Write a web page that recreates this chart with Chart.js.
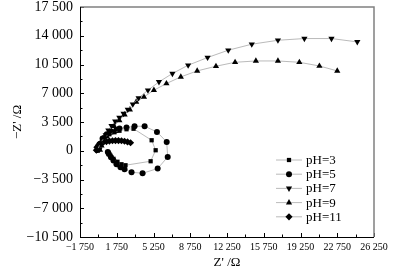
<!DOCTYPE html>
<html>
<head>
<meta charset="utf-8">
<script src="https://cdn.jsdelivr.net/npm/chart.js@4"></script>
<style>
  html, body { margin: 0; padding: 0; background: #fff; }
</style>
</head>
<body>
<canvas id="nyquist" width="405" height="272"></canvas>
<script>
// Nyquist data, [Z', -Z''] in ohm
const seriesLabels = ['pH=3', 'pH=5', 'pH=7', 'pH=9', 'pH=11'];

const ph3 = [[-94, 61], [193, 913], [575, 1644], [1054, 2009], [1532, 2252], [2011, 2435],
  [2681, 2617], [3350, 2678], [5073, 1278], [5455, 61], [4977, -1278], [2585, -1765],
  [2202, -1644], [1820, -1340], [1440, -980], [1150, -600], [960, -250]];

const ph5 = [[-94, 100], [100, 800], [400, 1500], [800, 2000], [1250, 2300], [1700, 2500],
  [2011, 2700], [2681, 2820], [3446, 2983], [4403, 2983], [5580, 2289], [6507, 1071],
  [6603, -755], [5646, -2167], [4211, -2739], [3159, -2617], [2489, -2252], [2106, -2009],
  [1724, -1644], [1437, -1200], [1200, -800], [1000, -400], [900, -150]];

const ph7 = [[100, 150], [250, 700], [450, 1300], [700, 1900], [950, 2500], [1250, 3050],
  [1600, 3600], [2000, 4050], [2400, 4530], [2800, 5020], [3280, 5660], [3830, 6430],
  [4720, 7370], [5770, 8380], [7050, 9400], [8550, 10410], [10400, 11350], [12370, 12240],
  [14610, 12970], [17100, 13450], [19620, 13660], [22200, 13660], [24660, 13250]];

const ph9 = [[150, 100], [300, 600], [550, 1150], [800, 1700], [1050, 2300], [1500, 3000],
  [2000, 3700], [2500, 4400], [3000, 5000], [3600, 5940], [4340, 6550], [5290, 7370],
  [6480, 8180], [7850, 8990], [9410, 9720], [11200, 10290], [13020, 10770], [15000, 10930],
  [17100, 10930], [19140, 10770], [21050, 10320], [22750, 9720]];

const ph11 = [[-190, 61], [-140, 426], [1, 670], [193, 913], [480, 1035], [767, 1120],
  [1054, 1181], [1341, 1217], [1628, 1242], [1915, 1242], [2202, 1217], [2489, 1157],
  [2776, 1071], [3063, 974]];

const xMin = -1750, xMax = 26250, yMin = -10500, yMax = 17500, step = 1750;

function fmt(v) {
  const s = Math.abs(v).toString().replace(/\B(?=(\d{3})+(?!\d))/g, ' ');
  return (v < 0 ? '\u2212' : '') + s;
}

function toPoints(arr) {
  return arr.map(p => ({ x: p[0], y: p[1] }));
}

const serif = 'Liberation Serif';

const markers = [
  { style: 'rect', radius: 3, rotation: 0 },
  { style: 'circle', radius: 3, rotation: 0 },
  { style: 'triangle', radius: 3.6, rotation: 180 },
  { style: 'triangle', radius: 3.6, rotation: 0 },
  { style: 'rectRot', radius: 3.6, rotation: 0 }
];

const allSeries = [ph3, ph5, ph7, ph9, ph11];

const datasets = allSeries.map((s, i) => ({
  label: seriesLabels[i],
  data: toPoints(s),
  showLine: true,
  borderColor: '#a8a8a8',
  borderWidth: 0.8,
  backgroundColor: '#000',
  pointBackgroundColor: '#000',
  pointBorderColor: '#000',
  pointBorderWidth: 0,
  pointStyle: markers[i].style,
  pointRadius: markers[i].radius,
  rotation: markers[i].rotation,
  tension: 0
}));

// inward ticks, frame and the line+marker legend
const framePlugin = {
  id: 'framePlugin',
  afterDraw(chart) {
    const ctx = chart.ctx;
    const a = chart.chartArea;
    const xs = chart.scales.x, ys = chart.scales.y;
    ctx.save();
    ctx.strokeStyle = '#000';
    ctx.lineWidth = 1;
    ctx.beginPath();
    for (let v = xMin; v <= xMax; v += step) {
      const px = Math.round(xs.getPixelForValue(v)) + 0.5;
      const len = ((v - xMin) % 3500 === 0) ? 4 : 2.5;
      ctx.moveTo(px, a.bottom);
      ctx.lineTo(px, a.bottom - len);
    }
    for (let v = yMin; v <= yMax; v += step) {
      const py = Math.round(ys.getPixelForValue(v)) + 0.5;
      const len = (v % 3500 === 0) ? 4 : 2.5;
      ctx.moveTo(a.left, py);
      ctx.lineTo(a.left + len, py);
    }
    ctx.stroke();

    // top and right frame, grey
    ctx.strokeStyle = '#808080';
    ctx.lineWidth = 1.5;
    ctx.beginPath();
    ctx.moveTo(a.left, a.top);
    ctx.lineTo(a.right, a.top);
    ctx.lineTo(a.right, a.bottom);
    ctx.stroke();
    // left and bottom axes, black
    ctx.strokeStyle = '#000';
    ctx.lineWidth = 1;
    ctx.beginPath();
    ctx.moveTo(a.left + 0.5, a.top);
    ctx.lineTo(a.left + 0.5, a.bottom + 0.5);
    ctx.lineTo(a.right, a.bottom + 0.5);
    ctx.stroke();

    // legend
    const lx0 = 276, lx1 = 302, mx = 289, tx = 306;
    chart.data.datasets.forEach((ds, i) => {
      const y = 160 + i * 14.2;
      ctx.strokeStyle = '#a8a8a8';
      ctx.lineWidth = 0.8;
      ctx.beginPath();
      ctx.moveTo(lx0, y);
      ctx.lineTo(lx1, y);
      ctx.stroke();
      ctx.fillStyle = '#000';
      ctx.strokeStyle = '#000';
      ctx.lineWidth = 0;
      Chart.helpers.drawPoint(ctx, {
        pointStyle: markers[i].style,
        radius: markers[i].radius,
        rotation: markers[i].rotation,
        borderWidth: 0
      }, mx, y);
      ctx.fillStyle = '#000';
      ctx.font = '13px "' + serif + '"';
      ctx.textBaseline = 'middle';
      ctx.textAlign = 'left';
      ctx.fillText(ds.label, tx, y + 0.5);
    });
    ctx.restore();
  }
};

new Chart(document.getElementById('nyquist'), {
  type: 'scatter',
  data: { datasets: datasets },
  options: {
    responsive: false,
    animation: false,
    devicePixelRatio: 1,
    layout: { padding: { left: 10, right: 31, top: 7, bottom: 0 } },
    plugins: {
      legend: { display: false },
      tooltip: { enabled: false }
    },
    scales: {
      x: {
        type: 'linear',
        min: xMin,
        max: xMax,
        afterFit(scale) {
          scale.height = 35;
          scale.paddingLeft = 0;
          scale.paddingRight = 0;
        },
        grid: { display: false, drawTicks: false },
        border: { display: false },
        ticks: {
          stepSize: step,
          autoSkip: false,
          maxRotation: 0,
          padding: 4,
          color: '#000',
          font: { family: serif, size: 10 },
          callback: v => ((v - xMin) % 3500 === 0 ? fmt(v) : '')
        },
        title: {
          display: true,
          text: "Z' /\u03a9",
          color: '#000',
          font: { family: serif, size: 13 },
          padding: { top: 0, bottom: 2 }
        }
      },
      y: {
        type: 'linear',
        min: yMin,
        max: yMax,
        afterFit(scale) {
          scale.width = 70;
          scale.paddingTop = 0;
          scale.paddingBottom = 0;
        },
        grid: { display: false, drawTicks: false },
        border: { display: false },
        ticks: {
          stepSize: step,
          autoSkip: false,
          padding: 7,
          color: '#000',
          font: { family: serif, size: 14 },
          callback: v => (v % 3500 === 0 ? fmt(v) : '')
        },
        title: {
          display: true,
          text: "\u2212Z' /\u03a9",
          color: '#000',
          font: { family: serif, size: 13 },
          padding: { top: 0, bottom: 0 }
        }
      }
    }
  },
  plugins: [framePlugin]
});
</script>
</body>
</html>
